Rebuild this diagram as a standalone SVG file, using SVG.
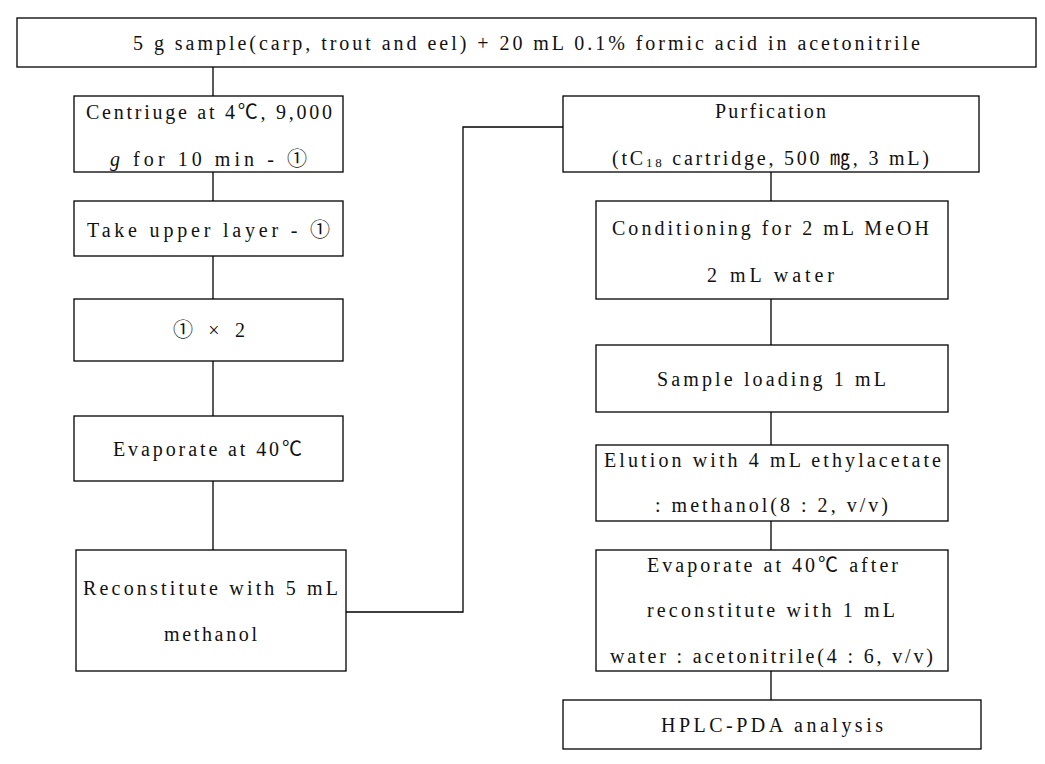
<svg xmlns="http://www.w3.org/2000/svg" width="1045" height="764" viewBox="0 0 1045 764">
<style>
.box{fill:#fff;stroke:#000;stroke-width:1.3}
.c{fill:none;stroke:#000;stroke-width:1.3}
text{font-family:"Liberation Serif","Noto Sans CJK KR",serif;font-size:20px;fill:#111}
</style>
<rect width="1045" height="764" fill="#fff"/>
<g id="connectors">
<line class="c" x1="213" y1="67" x2="213" y2="96"/>
<line class="c" x1="213" y1="172" x2="213" y2="201"/>
<line class="c" x1="213" y1="256" x2="213" y2="299"/>
<line class="c" x1="213" y1="361" x2="213" y2="416"/>
<line class="c" x1="213" y1="481" x2="213" y2="550"/>
<polyline class="c" points="346,612 463,612 463,127 563,127"/>
<line class="c" x1="771" y1="172" x2="771" y2="201"/>
<line class="c" x1="771" y1="299" x2="771" y2="345"/>
<line class="c" x1="771" y1="412" x2="771" y2="445"/>
<line class="c" x1="771" y1="521" x2="771" y2="550"/>
<line class="c" x1="771" y1="671" x2="771" y2="700"/>
</g>
<g id="n-sample">
<rect class="box" x="17" y="18" width="1019" height="49"/>
<text x="133" y="50" textLength="787" lengthAdjust="spacing">5 g sample(carp, trout and eel) + 20 mL 0.1% formic acid in acetonitrile</text>
</g>
<g id="n-centrifuge">
<rect class="box" x="74" y="96" width="269" height="76"/>
<text x="86" y="119" textLength="246" lengthAdjust="spacing">Centriuge at 4℃, 9,000</text>
<text x="110" y="166" textLength="197" lengthAdjust="spacing"><tspan font-style="italic">g</tspan> for 10 min - ①</text>
</g>
<g id="n-upper">
<rect class="box" x="74" y="201" width="269" height="55"/>
<text x="87" y="237" textLength="243" lengthAdjust="spacing">Take upper layer - ①</text>
</g>
<g id="n-repeat">
<rect class="box" x="74" y="299" width="269" height="62"/>
<text x="173" y="337" textLength="72" lengthAdjust="spacing">① × 2</text>
</g>
<g id="n-evap1">
<rect class="box" x="74" y="416" width="269" height="65"/>
<text x="113" y="456" textLength="189" lengthAdjust="spacing">Evaporate at 40℃</text>
</g>
<g id="n-recon">
<rect class="box" x="76" y="550" width="270" height="121"/>
<text x="83" y="595" textLength="255" lengthAdjust="spacing">Reconstitute with 5 mL</text>
<text x="164" y="641" textLength="93" lengthAdjust="spacing">methanol</text>
</g>
<g id="n-purif">
<rect class="box" x="563" y="96" width="416" height="76"/>
<text x="715" y="118" textLength="111" lengthAdjust="spacing">Purfication</text>
<text x="612" y="165" textLength="317" lengthAdjust="spacing">(tC<tspan font-size="13" dy="2">18</tspan><tspan dy="-2"> cartridge, 500 ㎎, 3 mL)</tspan></text>
</g>
<g id="n-cond">
<rect class="box" x="596" y="201" width="352" height="98"/>
<text x="612" y="235" textLength="317" lengthAdjust="spacing">Conditioning for 2 mL MeOH</text>
<text x="707" y="282" textLength="127" lengthAdjust="spacing">2 mL water</text>
</g>
<g id="n-load">
<rect class="box" x="596" y="345" width="352" height="67"/>
<text x="657" y="386" textLength="229" lengthAdjust="spacing">Sample loading 1 mL</text>
</g>
<g id="n-elution">
<rect class="box" x="596" y="445" width="352" height="76"/>
<text x="604" y="467" textLength="337" lengthAdjust="spacing">Elution with 4 mL ethylacetate</text>
<text x="655" y="512" textLength="233" lengthAdjust="spacing">: methanol(8 : 2, v/v)</text>
</g>
<g id="n-evap2">
<rect class="box" x="596" y="550" width="352" height="121"/>
<text x="647" y="572" textLength="251" lengthAdjust="spacing">Evaporate at 40℃ after</text>
<text x="647" y="617" textLength="248" lengthAdjust="spacing">reconstitute with 1 mL</text>
<text x="610" y="663" textLength="323" lengthAdjust="spacing">water : acetonitrile(4 : 6, v/v)</text>
</g>
<g id="n-hplc">
<rect class="box" x="563" y="700" width="418" height="49"/>
<text x="661" y="732" textLength="222" lengthAdjust="spacing">HPLC-PDA analysis</text>
</g>
</svg>
